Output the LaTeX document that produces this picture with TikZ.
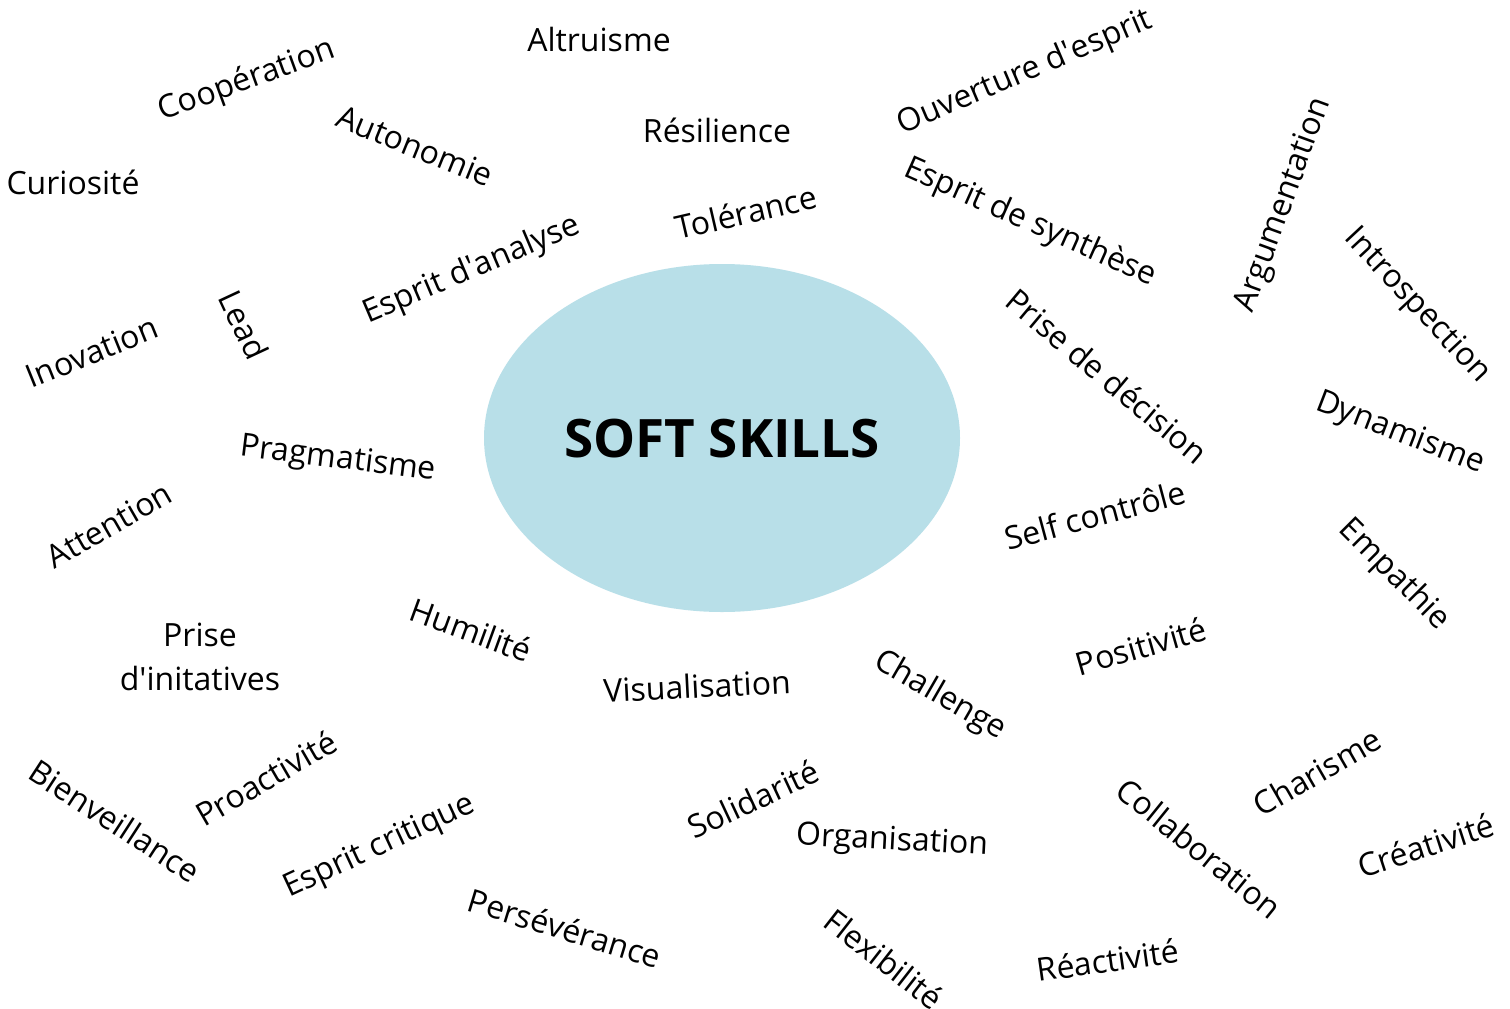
\documentclass[tikz,border=0pt]{standalone}
\usepackage{fontspec}
\setmainfont{Open Sans}
\usetikzlibrary{shapes.geometric}
\definecolor{bubble}{HTML}{B8DFE8}
\newcommand{\apos}{\textquotesingle}
\begin{document}
\begin{tikzpicture}[x=1pt,y=-1pt,
  w/.style={font=\fontsize{32}{40}\selectfont, inner sep=0pt, align=center}]
\useasboundingbox (0,0) rectangle (1510,1009);
\fill[white] (0,0) rectangle (1510,1009);
\node[ellipse, fill=bubble, minimum width=476pt, minimum height=348pt, inner sep=0pt] (core) at (722,438) {};
\node[font=\fontsize{53}{64}\bfseries\selectfont] (title) at (722,439) {SOFT SKILLS};
\node[w] (altruisme) at (599,39) {Altruisme};
\node[w, rotate=20] (cooperation) at (247,81) {Coopération};
\node[w] (resilience) at (717,130) {Résilience};
\node[w, rotate=23] (ouverture) at (1025,73) {Ouverture d\apos esprit};
\node[w] (curiosite) at (73,182) {Curiosité};
\node[w, rotate=-22] (autonomie) at (415,146) {Autonomie};
\node[w, rotate=13] (tolerance) at (746,212) {Tolérance};
\node[w, rotate=-24] (synthese) at (1030,223) {Esprit de synthèse};
\node[w, rotate=70] (argumentation) at (1284,205) {Argumentation};
\node[w, rotate=-47] (introspection) at (1417,306) {Introspection};
\node[w, rotate=23] (analyse) at (472,270) {Esprit d\apos analyse};
\node[w, rotate=22] (inovation) at (92,352) {Inovation};
\node[w, rotate=-65] (lead) at (244,325) {Lead};
\node[w, rotate=-40] (decision) at (1107,376) {Prise de décision};
\node[w, rotate=-21] (dynamisme) at (1400,434) {Dynamisme};
\node[w, rotate=-7] (pragmatisme) at (338,460) {Pragmatisme};
\node[w, rotate=30] (attention) at (109,525) {Attention};
\node[w, rotate=15] (selfcontrole) at (1095,515) {Self contrôle};
\node[w, rotate=-45] (empathie) at (1394,575) {Empathie};
\node[w, font=\fontsize{32}{44}\selectfont] (initiatives) at (200,657) {Prise\\d\apos initatives};
\node[w, rotate=-20] (humilite) at (471,630) {Humilité};
\node[w, rotate=16] (positivite) at (1141,646) {Positivité};
\node[w, rotate=3] (visualisation) at (697,686) {Visualisation};
\node[w, rotate=-30] (challenge) at (940,696) {Challenge};
\node[w, rotate=-33] (bienveillance) at (115,821) {Bienveillance};
\node[w, rotate=30] (proactivite) at (266,778) {Proactivité};
\node[w, rotate=30] (charisme) at (1317,772) {Charisme};
\node[w, rotate=25] (solidarite) at (753,799) {Solidarité};
\node[w, rotate=25] (critique) at (380,847) {Esprit critique};
\node[w, rotate=-3] (organisation) at (892,842) {Organisation};
\node[w, rotate=-39] (collaboration) at (1199,848) {Collaboration};
\node[w, rotate=18] (creativite) at (1426,845) {Créativité};
\node[w, rotate=-17] (perseverance) at (565,928) {Persévérance};
\node[w, rotate=-38] (flexibilite) at (884,959) {Flexibilité};
\node[w, rotate=8] (reactivite) at (1108,960) {Réactivité};
\end{tikzpicture}
\end{document}
